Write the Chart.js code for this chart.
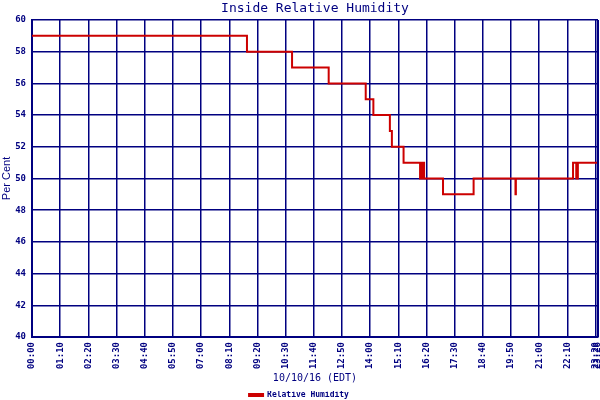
<!DOCTYPE html>
<html>
<head>
<meta charset="utf-8">
<script src="https://cdn.jsdelivr.net/npm/chart.js@4"></script>
<style>
  body { margin: 0; background: #fff; }
  #wrap { width: 600px; height: 400px; }
</style>
</head>
<body>
<div id="wrap"><canvas id="chart"></canvas></div>
<script>
// minutes since midnight where the humidity changes, and the value from then on
const stepMinutes = [0, 534, 646, 737, 829, 848, 889, 894, 923, 964, 969, 974, 1021, 1097, 1201, 1202, 1344, 1352, 1356, 1406];
const humidity    = [59, 58, 57, 56, 55, 54, 53, 52, 51, 50, 51, 50, 49, 50, 49, 50, 51, 50, 51, 51];

// x tick positions (minutes) and y ticks
const xTicks = [0, 70, 140, 210, 280, 350, 420, 490, 560, 630, 700, 770, 840, 910, 980, 1050, 1120, 1190, 1260, 1330, 1400, 1406];
const yTicks = [40, 42, 44, 46, 48, 50, 52, 54, 56, 58, 60];

const titleText = 'Inside Relative Humidity';
const navy = '#000080';
const red = '#cc0000';
const mono = 'DejaVu Sans Mono';

const fmtTime = m => {
  const h = Math.floor(m / 60), mm = m % 60;
  return String(h).padStart(2, '0') + ':' + String(mm).padStart(2, '0');
};

const points = stepMinutes.map((m, i) => ({ x: m, y: humidity[i] }));

new Chart(document.getElementById('chart'), {
  type: 'line',
  data: {
    datasets: [{
      label: 'Relative Humidity',
      data: points,
      stepped: true,
      borderColor: red,
      backgroundColor: red,
      borderWidth: 2,
      pointRadius: 0,
      fill: false,
    }],
  },
  options: {
    responsive: true,
    maintainAspectRatio: false,
    animation: false,
    // negative bottom padding pushes the legend row down to the canvas edge
    layout: { padding: { left: 0, right: 2, top: 20, bottom: -9 } },
    plugins: {
      title: { display: false },
      legend: {
        position: 'bottom',
        labels: {
          color: navy,
          font: { family: mono, size: 8, weight: 'bold' },
          boxWidth: 14,
          boxHeight: 2,
          padding: 0,
        },
      },
      tooltip: { enabled: false },
    },
    scales: {
      x: {
        type: 'linear',
        min: 0,
        max: 1406,
        afterBuildTicks: s => { s.ticks = xTicks.map(v => ({ value: v })); },
        afterFit: s => {
          s.height = 409 - 337 - (s.chart.legend.height || 18);
          s.paddingLeft = 0;
          s.paddingRight = 0;
        },
        grid: { color: navy, lineWidth: 1.5, drawTicks: false },
        border: { color: navy, width: 2 },
        ticks: {
          autoSkip: false,
          minRotation: 90,
          maxRotation: 90,
          padding: 5,
          color: navy,
          font: { family: mono, size: 9, weight: 'bold' },
          callback: v => fmtTime(v),
        },
        title: {
          display: true,
          text: '10/10/16 (EDT)',
          color: navy,
          font: { family: mono, size: 10 },
          padding: { top: 2, bottom: 7 },
        },
      },
      y: {
        min: 40,
        max: 60,
        afterBuildTicks: s => { s.ticks = yTicks.map(v => ({ value: v })); },
        afterFit: s => { s.width = 32; },
        grid: { color: navy, lineWidth: 1.5, drawTicks: false },
        border: { color: navy, width: 2 },
        ticks: {
          padding: 6,
          color: navy,
          font: { family: mono, size: 9, weight: 'bold' },
        },
        title: {
          display: true,
          text: 'Per Cent',
          color: navy,
          font: { family: 'Liberation Sans', size: 11 },
          padding: 0,
        },
      },
    },
  },
  plugins: [{
    // title centred over the plot area, heavy line on the right edge
    id: 'decor',
    afterDraw(chart) {
      const { ctx, chartArea } = chart;
      ctx.save();
      ctx.fillStyle = navy;
      ctx.font = '13px "' + mono + '"';
      ctx.textAlign = 'center';
      ctx.textBaseline = 'middle';
      ctx.fillText(titleText, (chartArea.left + chartArea.right) / 2, 9);
      ctx.strokeStyle = navy;
      ctx.lineWidth = 2;
      ctx.beginPath();
      ctx.moveTo(chartArea.right, chartArea.top);
      ctx.lineTo(chartArea.right, chartArea.bottom);
      ctx.stroke();
      ctx.restore();
    },
  }],
});
</script>
</body>
</html>
